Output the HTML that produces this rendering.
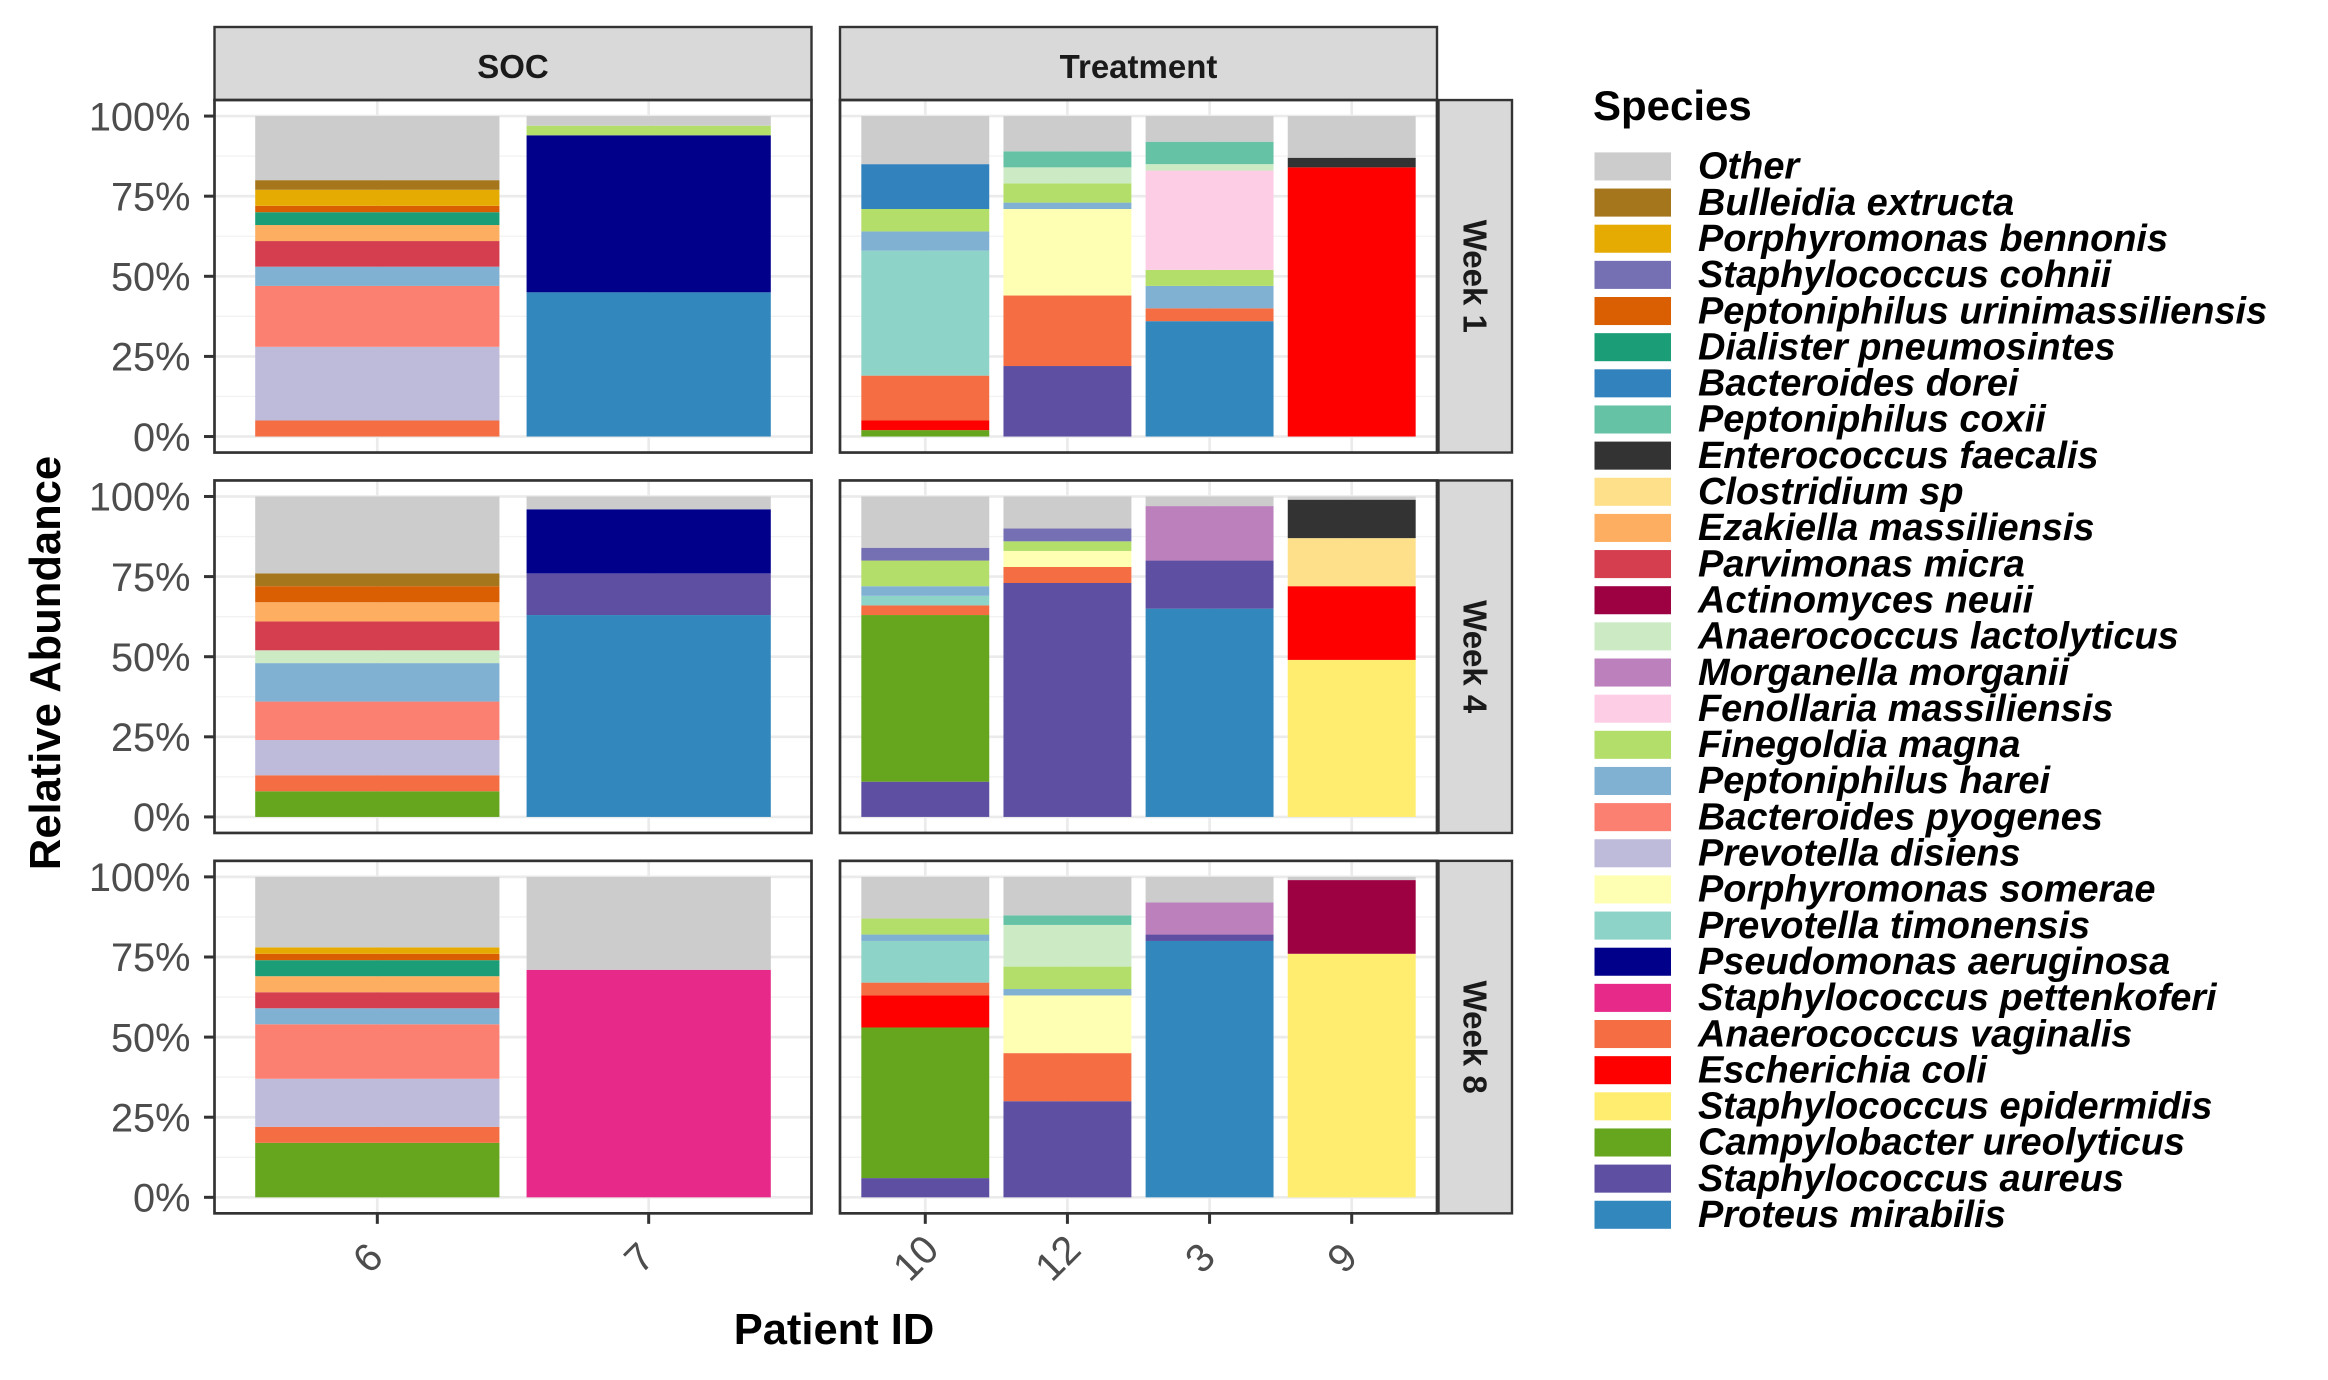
<!DOCTYPE html>
<html><head><meta charset="utf-8"><style>
html,body{margin:0;padding:0;background:#fff;}
svg{display:block;}
text{font-family:"Liberation Sans",Arial,sans-serif;}
</style></head><body>
<svg id="chart" width="2328" height="1380" viewBox="0 0 1552 920" xmlns="http://www.w3.org/2000/svg">
<rect x="0" y="0" width="1552" height="920" fill="#fff"/>
<g id="panels"></g>
<g id="legend"></g>
<text x="556" y="896" text-anchor="middle" font-size="29" font-weight="bold" fill="#000">Patient ID</text>
<text transform="translate(40,442) rotate(-90)" text-anchor="middle" font-size="29" font-weight="bold" fill="#000">Relative Abundance</text>
</svg>
<script>
const species = ["Other","Bulleidia extructa","Porphyromonas bennonis","Staphylococcus cohnii","Peptoniphilus urinimassiliensis","Dialister pneumosintes","Bacteroides dorei","Peptoniphilus coxii","Enterococcus faecalis","Clostridium sp","Ezakiella massiliensis","Parvimonas micra","Actinomyces neuii","Anaerococcus lactolyticus","Morganella morganii","Fenollaria massiliensis","Finegoldia magna","Peptoniphilus harei","Bacteroides pyogenes","Prevotella disiens","Porphyromonas somerae","Prevotella timonensis","Pseudomonas aeruginosa","Staphylococcus pettenkoferi","Anaerococcus vaginalis","Escherichia coli","Staphylococcus epidermidis","Campylobacter ureolyticus","Staphylococcus aureus","Proteus mirabilis"];
const speciesColors = ["#cccccc","#a6761d","#e6ab02","#7570b3","#d95f02","#1b9e77","#3182bd","#66c2a5","#333333","#fee08b","#fdae61","#d53e4f","#9e0142","#ccebc5","#bc80bd","#fccde5","#b3de69","#80b1d3","#fb8072","#bebada","#ffffb3","#8dd3c7","#00008b","#e7298a","#f46d43","#ff0000","#ffed6f","#66a61e","#5e4fa2","#3288bd"];
const groups = ["SOC","Treatment"];
const weeks = ["Week 1","Week 4","Week 8"];
const socPatients = ["6","7"];
const treatPatients = ["10","12","3","9"];
const yTicks = [0,25,50,75,100];
const yTickLabels = ["0%","25%","50%","75%","100%"];

const w1_p6 = [["Anaerococcus vaginalis",5],["Prevotella disiens",23],["Bacteroides pyogenes",19],["Peptoniphilus harei",6],["Parvimonas micra",8],["Ezakiella massiliensis",5],["Dialister pneumosintes",4],["Peptoniphilus urinimassiliensis",2],["Porphyromonas bennonis",5],["Bulleidia extructa",3],["Other",20]];
const w1_p7 = [["Proteus mirabilis",45],["Pseudomonas aeruginosa",49],["Finegoldia magna",3],["Other",3]];
const w1_p10 = [["Campylobacter ureolyticus",2],["Escherichia coli",3],["Anaerococcus vaginalis",14],["Prevotella timonensis",39],["Peptoniphilus harei",6],["Finegoldia magna",7],["Bacteroides dorei",14],["Other",15]];
const w1_p12 = [["Staphylococcus aureus",22],["Anaerococcus vaginalis",22],["Porphyromonas somerae",27],["Peptoniphilus harei",2],["Finegoldia magna",6],["Anaerococcus lactolyticus",5],["Peptoniphilus coxii",5],["Other",11]];
const w1_p3 = [["Proteus mirabilis",36],["Anaerococcus vaginalis",4],["Peptoniphilus harei",7],["Finegoldia magna",5],["Fenollaria massiliensis",31],["Anaerococcus lactolyticus",2],["Peptoniphilus coxii",7],["Other",8]];
const w1_p9 = [["Escherichia coli",84],["Enterococcus faecalis",3],["Other",13]];
const w4_p6 = [["Campylobacter ureolyticus",8],["Anaerococcus vaginalis",5],["Prevotella disiens",11],["Bacteroides pyogenes",12],["Peptoniphilus harei",12],["Anaerococcus lactolyticus",4],["Parvimonas micra",9],["Ezakiella massiliensis",6],["Peptoniphilus urinimassiliensis",5],["Bulleidia extructa",4],["Other",24]];
const w4_p7 = [["Proteus mirabilis",63],["Staphylococcus aureus",13],["Pseudomonas aeruginosa",20],["Other",4]];
const w4_p10 = [["Staphylococcus aureus",11],["Campylobacter ureolyticus",52],["Anaerococcus vaginalis",3],["Prevotella timonensis",3],["Peptoniphilus harei",3],["Finegoldia magna",8],["Staphylococcus cohnii",4],["Other",16]];
const w4_p12 = [["Staphylococcus aureus",73],["Anaerococcus vaginalis",5],["Porphyromonas somerae",5],["Finegoldia magna",3],["Staphylococcus cohnii",4],["Other",10]];
const w4_p3 = [["Proteus mirabilis",65],["Staphylococcus aureus",15],["Morganella morganii",17],["Other",3]];
const w4_p9 = [["Staphylococcus epidermidis",49],["Escherichia coli",23],["Clostridium sp",15],["Enterococcus faecalis",12],["Other",1]];
const w8_p6 = [["Campylobacter ureolyticus",17],["Anaerococcus vaginalis",5],["Prevotella disiens",15],["Bacteroides pyogenes",17],["Peptoniphilus harei",5],["Parvimonas micra",5],["Ezakiella massiliensis",5],["Dialister pneumosintes",5],["Peptoniphilus urinimassiliensis",2],["Porphyromonas bennonis",2],["Other",22]];
const w8_p7 = [["Staphylococcus pettenkoferi",71],["Other",29]];
const w8_p10 = [["Staphylococcus aureus",6],["Campylobacter ureolyticus",47],["Escherichia coli",10],["Anaerococcus vaginalis",4],["Prevotella timonensis",13],["Peptoniphilus harei",2],["Finegoldia magna",5],["Other",13]];
const w8_p12 = [["Staphylococcus aureus",30],["Anaerococcus vaginalis",15],["Porphyromonas somerae",18],["Peptoniphilus harei",2],["Finegoldia magna",7],["Anaerococcus lactolyticus",13],["Peptoniphilus coxii",3],["Other",12]];
const w8_p3 = [["Proteus mirabilis",80],["Staphylococcus aureus",2],["Morganella morganii",10],["Other",8]];
const w8_p9 = [["Staphylococcus epidermidis",76],["Actinomyces neuii",23],["Other",1]];

const stacks = [
  [[w1_p6,w1_p7],[w1_p10,w1_p12,w1_p3,w1_p9]],
  [[w4_p6,w4_p7],[w4_p10,w4_p12,w4_p3,w4_p9]],
  [[w8_p6,w8_p7],[w8_p10,w8_p12,w8_p3,w8_p9]]
];

const NS = "http://www.w3.org/2000/svg";
function mk(tag, attrs, parent){ const e=document.createElementNS(NS,tag); for(const k in attrs) e.setAttribute(k,attrs[k]); parent.appendChild(e); return e; }

const panelX = [143, 560];
const panelW = 398;
const panelH = 235;
const rowTop = [66.7, 320.3, 573.9];
const stripTop = 18;
const rowStripX = 959, rowStripW = 49;
const panelsG = document.getElementById('panels');

function yS(row, v){ const b=rowTop[row]+panelH; const u=panelH/1.1; return b - u*0.05 - u*v/100; }
function xBand(g, n, i){ const unit=panelW/(n+0.2); return {c: panelX[g] + (0.6+i)*unit, w: 0.9*unit}; }

groups.forEach((g,gi)=>{
  const s = mk('rect',{x:panelX[gi],y:stripTop,width:panelW,height:rowTop[0]-stripTop,fill:'#d9d9d9',stroke:'#333',"stroke-width":1.6},panelsG);
  
  
  const t = mk('text',{x:panelX[gi]+panelW/2,y:52,"text-anchor":"middle","font-size":22,"font-weight":"bold",fill:"#1a1a1a"},panelsG);
  t.textContent=g;
  
  
});

weeks.forEach((wk,ri)=>{
  const top=rowTop[ri];
  const rs = mk('rect',{x:rowStripX,y:top,width:rowStripW,height:panelH,fill:'#d9d9d9',stroke:'#333',"stroke-width":1.6},panelsG);
  
  
  const rt = mk('text',{transform:`translate(${rowStripX+rowStripW/2-8},${top+panelH/2}) rotate(90)`,"text-anchor":"middle","font-size":22,"font-weight":"bold",fill:"#1a1a1a"},panelsG);
  rt.textContent=wk;
  
  

  yTicks.forEach((v,ti)=>{
    const y=yS(ri,v);
    const tk = mk('line',{x1:136,x2:143,y1:y,y2:y,stroke:'#333',"stroke-width":2},panelsG);
    
    
    const tl = mk('text',{x:127,y:y+9.5,"text-anchor":"end","font-size":26.5,fill:"#4d4d4d"},panelsG);
    tl.textContent=yTickLabels[ti];
    
    
  });

  [socPatients, treatPatients].forEach((pats,gi)=>{
    const pg = mk('g',{},panelsG);
    
    
    mk('rect',{x:panelX[gi],y:top,width:panelW,height:panelH,fill:'#fff'},pg);
    [12.5,37.5,62.5,87.5].forEach(v=>{ const y=yS(ri,v); mk('line',{x1:panelX[gi],x2:panelX[gi]+panelW,y1:y,y2:y,stroke:'#f2f2f2',"stroke-width":0.9},pg); });
    yTicks.forEach(v=>{ const y=yS(ri,v); mk('line',{x1:panelX[gi],x2:panelX[gi]+panelW,y1:y,y2:y,stroke:'#ebebeb',"stroke-width":1.8},pg); });
    pats.forEach((p,pi)=>{ const b=xBand(gi,pats.length,pi); mk('line',{x1:b.c,x2:b.c,y1:top,y2:top+panelH,stroke:'#ebebeb',"stroke-width":1.8},pg); });
    pats.forEach((p,pi)=>{
      const b=xBand(gi,pats.length,pi);
      const data = stacks[ri][gi][pi].slice().sort((a,c)=>species.indexOf(c[0])-species.indexOf(a[0]));
      let cum=0;
      data.forEach(([sp,v])=>{
        const y1=yS(ri,cum), y2=yS(ri,cum+v);
        const r = mk('rect',{x:b.c-b.w/2,y:y2,width:b.w,height:Math.max(0,y1-y2),fill:speciesColors[species.indexOf(sp)]},pg);
        
        
        cum+=v;
      });
    });
    const border = mk('rect',{x:panelX[gi],y:top,width:panelW,height:panelH,fill:'none',stroke:'#333',"stroke-width":1.8},pg);
    
    

    if(ri===2){
      pats.forEach((p,pi)=>{
        const b=xBand(gi,pats.length,pi);
        const tk = mk('line',{x1:b.c,x2:b.c,y1:top+panelH,y2:top+panelH+7,stroke:'#333',"stroke-width":2},panelsG);
        
        
        const tl = mk('text',{transform:`translate(${b.c},${845}) rotate(-45)`,"text-anchor":"middle","font-size":26.5,fill:"#4d4d4d"},panelsG);
        tl.textContent=p;
        
        
      });
    }
  });
});

const lg=document.getElementById('legend');
const lt = mk('text',{x:1062,y:80,"font-size":28,"font-weight":"bold",fill:"#000"},lg);
lt.textContent="Species";


species.forEach((sp,i)=>{
  const y=101.6+i*24.1;
  const g=mk('g',{},lg);
  
  
  mk('rect',{x:1063,y:y,width:51,height:18.7,fill:speciesColors[i]},g);
  const t=mk('text',{x:1132,y:y+17.5,"font-size":25.3,"font-weight":"bold","font-style":"italic",fill:"#000"},g);
  t.textContent=sp;
});
</script>
</body></html>
